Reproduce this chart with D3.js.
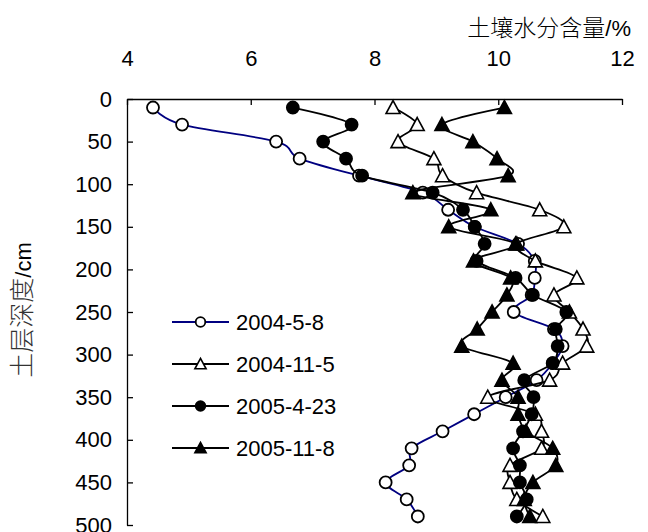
<!DOCTYPE html>
<html>
<head>
<meta charset="utf-8">
<script src="https://cdn.jsdelivr.net/npm/d3@7"></script>
<style>
  html, body { margin: 0; padding: 0; background: #fff; }
  svg { display: block; }
  .num { font-family: "Liberation Sans", Arial, sans-serif; font-size: 22px; fill: #000; }
  .cjk { font-family: "Noto Sans CJK SC", sans-serif; font-weight: 300; }
</style>
</head>
<body>
<svg id="chart" width="648" height="532"></svg>
<script>
// Sampling depths (cm)
const depths = [10, 30, 50, 70, 90, 110, 130, 150, 170, 190, 210, 230, 250,
                270, 290, 310, 330, 350, 370, 390, 410, 430, 450, 470, 490];

// Soil moisture content (%) per survey date
const s20040508 = [4.42, 4.89, 6.41, 6.79, 7.75, 8.78, 9.19, 9.62, 10.32, 10.59, 10.59, 10.54, 10.25,
                   10.90, 11.04, 10.88, 10.62, 10.12, 9.61, 9.10, 8.60, 8.56, 8.18, 8.52, 8.70];
const s20041105 = [8.30, 8.69, 8.38, 8.96, 9.10, 9.65, 10.67, 11.06, 10.30, 10.60, 11.27, 10.90, 11.15,
                   11.37, 11.43, 11.04, 10.83, 9.83, 10.60, 10.70, 10.70, 10.19, 10.19, 10.30, 10.72];
const s20050423 = [6.68, 7.63, 7.17, 7.54, 7.80, 8.94, 9.43, 9.62, 9.78, 9.65, 10.28, 10.56, 11.10,
                   10.93, 10.96, 10.88, 10.42, 10.57, 10.54, 10.40, 10.24, 10.35, 10.35, 10.46, 10.30];
const s20051108 = [10.10, 9.09, 9.59, 9.98, 10.16, 8.62, 9.88, 9.20, 10.28, 9.60, 10.20, 10.14, 9.90,
                   9.66, 9.41, 10.24, 10.06, 10.32, 10.32, 10.45, 10.88, 10.93, 10.56, 10.42, 10.51];

const seriesNames = ["2004-5-8", "2004-11-5", "2005-4-23", "2005-11-8"];
const seriesValues = [s20040508, s20041105, s20050423, s20051108];
const seriesStroke = ["#000080", "#000", "#000", "#000"];
const seriesMarker = ["circle-open", "triangle-open", "circle-filled", "triangle-filled"];

const xTicks = [4, 6, 8, 10, 12];
const yTicks = [0, 50, 100, 150, 200, 250, 300, 350, 400, 450, 500];
const xTitle = "土壤水分含量";
const xUnit = "/%";
const yTitle = "土层深度";
const yUnit = "/cm";

const svg = d3.select("#chart");
const x = d3.scaleLinear().domain([4, 12]).range([127, 622]);
const y = d3.scaleLinear().domain([0, 500]).range([99, 525]);

// Top value axis with inward ticks
const xAxis = svg.append("g")
  .attr("transform", `translate(0,${y(0)})`)
  .call(d3.axisTop(x).tickValues(xTicks).tickSizeInner(-6).tickSizeOuter(0).tickPadding(33)
        .tickFormat(d3.format("d")));
// Left depth axis with inward ticks
const yAxis = svg.append("g")
  .attr("transform", `translate(${x(4)},0)`)
  .call(d3.axisLeft(y).tickValues(yTicks).tickSizeInner(-6).tickSizeOuter(0).tickPadding(15)
        .tickFormat(d3.format("d")));

[xAxis, yAxis].forEach(g => {
  g.attr("font-size", null).attr("font-family", null);
  g.select(".domain").attr("stroke", "#000").attr("stroke-width", 1.3);
  g.selectAll(".tick line").attr("stroke", "#000").attr("stroke-width", 1.3);
  g.selectAll(".tick text").attr("class", "num");
});

// Axis titles
const xt = svg.append("text").attr("x", 631).attr("y", 36).attr("text-anchor", "end");
xt.append("tspan").attr("class", "cjk").attr("font-size", 23).text(xTitle);
xt.append("tspan").attr("class", "num").text(xUnit);

const yt = svg.append("text")
  .attr("transform", `translate(31,${310}) rotate(-90)`)
  .attr("text-anchor", "middle");
yt.append("tspan").attr("class", "cjk").attr("font-size", 25).attr("fill", "#333").text(yTitle);
yt.append("tspan").attr("class", "num").attr("fill", "#333").text(yUnit);

// Marker drawing helper
function drawMarker(g, kind, cx, cy, scale) {
  const s = scale || 1;
  if (kind.startsWith("circle")) {
    g.append("circle").attr("cx", cx).attr("cy", cy).attr("r", 6 * s)
      .attr("fill", kind.endsWith("open") ? "#fff" : "#000")
      .attr("stroke", "#000").attr("stroke-width", 1.8);
  } else {
    const w = 7 * s, hTop = 7 * s, hBot = 6 * s;
    g.append("path")
      .attr("d", `M${cx},${cy - hTop}L${cx + w},${cy + hBot}L${cx - w},${cy + hBot}Z`)
      .attr("fill", kind.endsWith("open") ? "#fff" : "#000")
      .attr("stroke", "#000").attr("stroke-width", 1.6).attr("stroke-linejoin", "miter");
  }
}

// Smoothed profile line
const line = d3.line()
  .x(d => x(d[0]))
  .y(d => y(d[1]))
  .curve(d3.curveCardinal.tension(0));

// Profiles
seriesValues.forEach((vals, i) => {
  const pts = vals.map((v, k) => [v, depths[k]]);
  const g = svg.append("g");
  g.append("path").attr("d", line(pts))
    .attr("fill", "none").attr("stroke", seriesStroke[i]).attr("stroke-width", 1.8);
  pts.forEach(p => drawMarker(g, seriesMarker[i], x(p[0]), y(p[1]), 1));
});

// Legend
const legY = [322, 364, 406, 448];
seriesNames.forEach((name, i) => {
  const g = svg.append("g");
  g.append("line").attr("x1", 172).attr("x2", 229).attr("y1", legY[i]).attr("y2", legY[i])
    .attr("stroke", seriesStroke[i]).attr("stroke-width", 1.8);
  drawMarker(g, seriesMarker[i], 200.5, legY[i], 0.8);
  g.append("text").attr("class", "num").attr("x", 236).attr("y", legY[i]).attr("dy", "0.36em").text(name);
});
</script>
</body>
</html>
